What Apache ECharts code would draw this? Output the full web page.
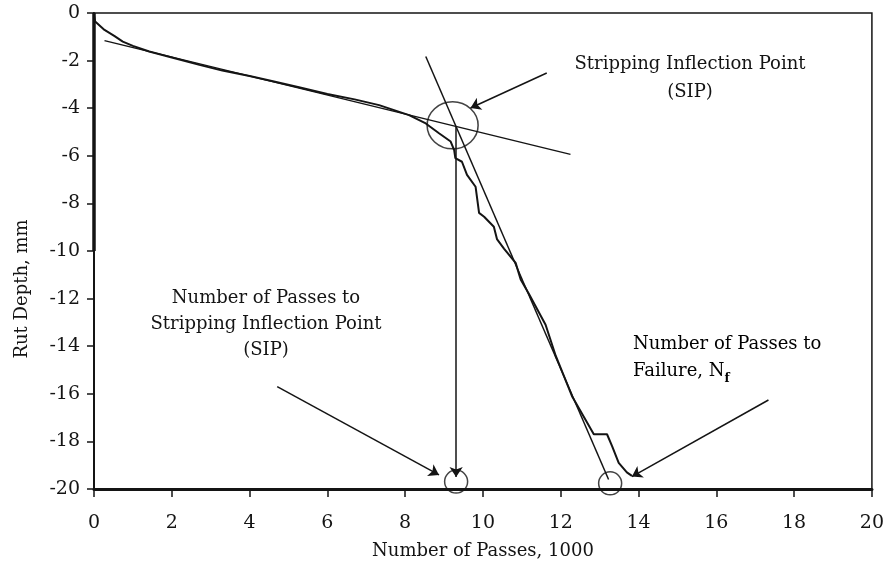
<!DOCTYPE html>
<html>
<head>
<meta charset="utf-8">
<script src="https://cdn.jsdelivr.net/npm/echarts@6/dist/echarts.min.js"></script>
<style>
html,body{margin:0;padding:0;background:#fff;}
#c{width:887px;height:569px;}
</style>
</head>
<body>
<div id="c"></div>
<script>
// ---- data (x: number of passes in 1000s, y: rut depth in mm) ----
var measuredCurve = [
  [0,-0.1],[0.03,-0.36],[0.27,-0.71],[0.53,-0.97],[0.74,-1.2],[1.0,-1.38],[1.42,-1.62],[2.0,-1.87],
  [2.71,-2.18],[3.3,-2.42],[4.0,-2.65],[4.6,-2.87],[5.27,-3.12],[6.0,-3.4],[6.7,-3.63],
  [7.33,-3.87],[8.1,-4.29],[8.53,-4.64],[8.87,-5.05],[9.17,-5.4],[9.26,-5.76],[9.29,-6.1],
  [9.46,-6.25],[9.59,-6.8],[9.81,-7.3],[9.9,-8.4],[10.03,-8.56],[10.28,-8.98],[10.36,-9.5],
  [10.54,-9.9],[10.84,-10.5],[10.97,-11.2],[11.18,-11.8],[11.61,-13.1],[11.87,-14.4],
  [12.29,-16.1],[12.64,-17.1],[12.85,-17.7],[13.06,-17.7],[13.19,-17.7],[13.32,-18.2],
  [13.49,-18.9],[13.7,-19.3],[13.83,-19.45]
];
var leftAxisOverlap = [[0,0],[0,-10]];
var tangentShallow = [[0.27,-1.16],[12.25,-5.94]];
var tangentSteep = [[8.53,-1.83],[13.23,-19.6]];
var sipVertical = [[9.31,-4.75],[9.31,-19.5]];
var arrowSIP = [[11.64,-2.52],[9.68,-3.99]];
var arrowPassesSIP = [[4.71,-15.70],[8.87,-19.41]];
var arrowFailure = [[17.34,-16.26],[13.83,-19.48]];
var sipCircle = [[9.22,-4.72]];
var axisCircles = [[9.31,-19.69],[13.27,-19.76]];
var xTicks = {min:0, max:20, interval:2};
var yTicks = {min:-20, max:0, interval:2};
var xTitle = 'Number of Passes, 1000';
var yTitle = 'Rut Depth, mm';
var labelTop = 'Stripping Inflection Point\n(SIP)';
var labelLeft = 'Number of Passes to\nStripping Inflection Point\n(SIP)';
var labelRight = ['Number of Passes to', 'Failure, N', 'f'];

var FONT = 'DejaVu Serif';
var INK = '#141414';
var chart = echarts.init(document.getElementById('c'), null, {renderer:'canvas'});

function arrowSeries(pts){
  return {
    type:'lines', coordinateSystem:'cartesian2d', silent:true,
    symbol:['none','arrow'], symbolSize:10,
    lineStyle:{color:INK, width:1.5, opacity:1},
    data:[{coords:pts}], z:5
  };
}

chart.setOption({
  animation:false,
  backgroundColor:'#fff',
  grid:{left:94, right:14, top:13, bottom:80, show:true, borderColor:INK, borderWidth:1.5, backgroundColor:'transparent'},
  xAxis:{
    type:'value', min:xTicks.min, max:xTicks.max, interval:xTicks.interval,
    name:xTitle, nameLocation:'middle', nameGap:53,
    nameTextStyle:{fontFamily:FONT, fontSize:18, color:INK},
    axisLine:{show:true, onZero:false, lineStyle:{color:INK, width:3}},
    axisTick:{show:true, length:8, lineStyle:{color:INK, width:1.5}},
    axisLabel:{fontFamily:FONT, fontSize:19, color:INK, margin:25},
    splitLine:{show:false}
  },
  yAxis:{
    type:'value', min:yTicks.min, max:yTicks.max, interval:yTicks.interval,
    axisLine:{show:true, onZero:false, lineStyle:{color:INK, width:2}},
    axisTick:{show:true, length:7, lineStyle:{color:INK, width:1.5}},
    axisLabel:{fontFamily:FONT, fontSize:19, color:INK, margin:14},
    splitLine:{show:false}
  },
  graphic:[
    {type:'text', x:22, y:289, rotation:Math.PI/2,
     style:{text:yTitle, font:'18px "DejaVu Serif"', fill:INK, align:'center', verticalAlign:'middle'}},
    {type:'text', x:690, y:50,
     style:{text:labelTop, font:'18px "DejaVu Serif"', fill:INK, align:'center', verticalAlign:'top', lineHeight:28}},
    {type:'text', x:266, y:285,
     style:{text:labelLeft, font:'18px "DejaVu Serif"', fill:INK, align:'center', verticalAlign:'top', lineHeight:26}},
    {type:'text', x:633, y:331,
     style:{
       text:'{a|'+labelRight[0]+'}\n{a|'+labelRight[1]+'}{s|'+labelRight[2]+'}',
       align:'left', verticalAlign:'top',
       rich:{
         a:{fontFamily:FONT, fontSize:18, color:INK, lineHeight:27},
         s:{fontFamily:FONT, fontSize:12, fontWeight:'bold', color:INK, lineHeight:27, verticalAlign:'bottom', padding:[8,0,0,0]}
       }
     }}
  ],
  series:[
    {type:'line', data:leftAxisOverlap, symbol:'none', lineStyle:{color:INK, width:3.5}, silent:true, z:3},
    {type:'line', data:tangentShallow, symbol:'none', lineStyle:{color:INK, width:1.5}, silent:true, z:3},
    {type:'line', data:tangentSteep, symbol:'none', lineStyle:{color:INK, width:1.5}, silent:true, z:3},
    {type:'line', data:measuredCurve, symbol:'none', lineStyle:{color:INK, width:2}, silent:true, z:4},
    arrowSeries(sipVertical),
    arrowSeries(arrowSIP),
    arrowSeries(arrowPassesSIP),
    arrowSeries(arrowFailure),
    {type:'scatter', data:sipCircle, symbol:'circle', symbolSize:[51,47], silent:true,
     itemStyle:{color:'rgba(0,0,0,0)', borderColor:INK, borderWidth:1.5}, z:6},
    {type:'scatter', data:axisCircles, symbol:'circle', symbolSize:23, silent:true,
     itemStyle:{color:'rgba(0,0,0,0)', borderColor:INK, borderWidth:1.5}, z:6}
  ]
});
</script>
</body>
</html>
